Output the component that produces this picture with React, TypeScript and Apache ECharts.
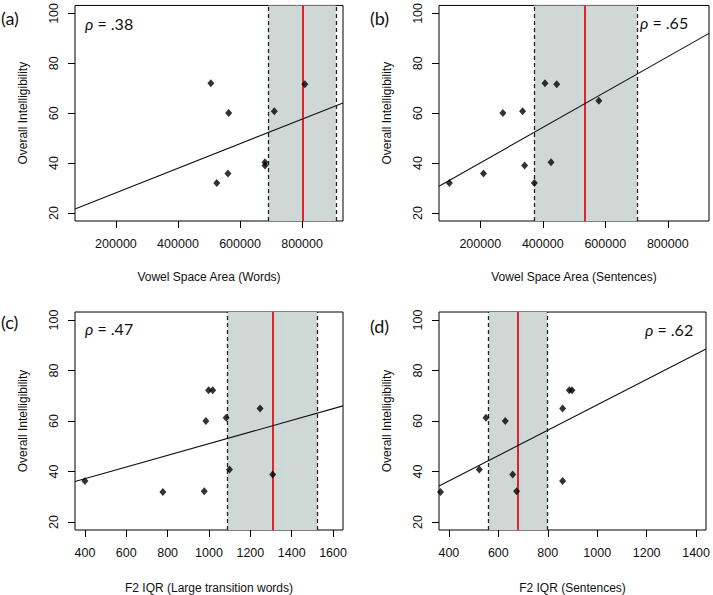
import React, { useEffect, useRef } from "react";
import * as echarts from "echarts";

// ---------- data ----------
const panelLabels = ["(a)", "(b)", "(c)", "(d)"];
const xNames = [
  "Vowel Space Area (Words)",
  "Vowel Space Area (Sentences)",
  "F2 IQR (Large transition words)",
  "F2 IQR (Sentences)",
];
const yName = "Overall Intelligibility";
const rhoValues = [".38", ".65", ".47", ".62"];

const xLimits = [
  [68000, 932000],
  [68000, 932000],
  [352, 1648],
  [360, 1440],
];
const yLimits = [16.8, 103.2];
const xTicks = [
  [200000, 400000, 600000, 800000],
  [200000, 400000, 600000, 800000],
  [400, 600, 800, 1000, 1200, 1400, 1600],
  [400, 600, 800, 1000, 1200, 1400],
];
const yTicks = [20, 40, 60, 80, 100];

const pointsA = [
  [506000, 72.0], [809000, 71.6], [563500, 60.1], [710500, 60.8],
  [680500, 40.3], [680500, 39.0], [561000, 35.8], [525000, 32.0],
];
const pointsB = [
  [101200, 32.0], [210300, 35.8], [272300, 60.1], [335500, 60.8], [341900, 39.0],
  [372900, 32.0], [407100, 72.0], [444600, 71.6], [426400, 40.3], [579400, 65.0],
];
const pointsC = [
  [400, 36.2], [777, 31.9], [977, 32.2], [985, 60.0], [998, 72.2],
  [1018, 72.2], [1083, 61.3], [1099, 40.8], [1247, 65.0], [1308, 38.8],
];
const pointsD = [
  [366, 31.9], [523, 40.8], [550, 61.3], [628, 60.0], [658, 38.8],
  [674, 32.2], [860, 65.0], [860, 36.2], [887, 72.2], [898, 72.2],
];
const pointsAll = [pointsA, pointsB, pointsC, pointsD];

// regression line endpoints read at the axis limits
const fitA = [[68000, 21.6], [932000, 64.1]];
const fitB = [[68000, 30.7], [932000, 92.0]];
const fitC = [[352, 36.0], [1648, 66.0]];
const fitD = [[360, 34.2], [1440, 88.5]];
const fitAll = [fitA, fitB, fitC, fitD];

// shaded interval [low, high], its centre, and the faint secondary line
const bands = [
  [691000, 909000],
  [373000, 701000],
  [1089, 1524],
  [561, 798],
];
const centres = [800800, 533400, 1307, 680];
const faintLines = [783000, 509000, 1350, 690];

// ---------- layout ----------
const grids = [
  { left: 75, top: 3, width: 268, height: 218 },
  { left: 439, top: 3, width: 270, height: 218 },
  { left: 75, top: 312, width: 268, height: 218 },
  { left: 439, top: 312, width: 270, height: 218 },
];
const panelLabelPos = [
  [1, 18], [370, 18], [1, 322], [370, 326],
];
const rhoPos = [
  [85, 23], [640, 22], [85, 328], [645, 329],
];
const xNameGaps = [50, 50, 52, 52];

const axisFont = "'Liberation Sans', Arial, sans-serif";
const labelFont = "Lato, 'Open Sans', sans-serif";

export default function App() {
  const ref = useRef<HTMLDivElement>(null);

  useEffect(() => {
    if (!ref.current) return;
    const chart = echarts.init(ref.current, null, { renderer: "svg" });

    const xAxis = xLimits.map((lim, i) => ({
      type: "value",
      gridIndex: i,
      min: lim[0],
      max: lim[1],
      name: xNames[i],
      nameLocation: "middle",
      nameGap: xNameGaps[i],
      nameTextStyle: { fontFamily: axisFont, fontSize: 12, color: "#111" },
      axisLine: { show: false },
      splitLine: { show: false },
      axisTick: {
        show: true,
        length: 7,
        customValues: xTicks[i],
        lineStyle: { color: "#000", width: 1 },
      },
      axisLabel: {
        customValues: xTicks[i],
        formatter: (v: number) => String(v),
        margin: 16,
        fontFamily: axisFont,
        fontSize: 12.5,
        color: "#111",
      },
    }));

    const yAxis = grids.map((_, i) => ({
      type: "value",
      gridIndex: i,
      min: yLimits[0],
      max: yLimits[1],
      name: yName,
      nameLocation: "middle",
      nameGap: 46,
      nameTextStyle: { fontFamily: axisFont, fontSize: 12, color: "#111" },
      axisLine: { show: false },
      splitLine: { show: false },
      axisTick: {
        show: true,
        length: 7,
        customValues: yTicks,
        lineStyle: { color: "#000", width: 1 },
      },
      axisLabel: {
        customValues: yTicks,
        formatter: (v: number) => String(v),
        rotate: 90,
        margin: 15,
        fontFamily: axisFont,
        fontSize: 12.5,
        color: "#111",
      },
    }));

    const series: any[] = [];
    grids.forEach((_, i) => {
      series.push({
        type: "line",
        xAxisIndex: i,
        yAxisIndex: i,
        data: fitAll[i],
        showSymbol: false,
        symbol: "none",
        silent: true,
        z: 3,
        lineStyle: { color: "#111", width: 1.1 },
        markArea: {
          silent: true,
          z: 1,
          itemStyle: { color: "#d0d8d5" },
          data: [[{ xAxis: bands[i][0] }, { xAxis: bands[i][1] }]],
        },
        markLine: {
          silent: true,
          z: 2,
          symbol: "none",
          label: { show: false },
          emphasis: { disabled: true },
          data: [
            { xAxis: faintLines[i], lineStyle: { color: "rgba(185,215,235,0.45)", width: 2, type: "solid" } },
            { xAxis: bands[i][0], lineStyle: { color: "#222", width: 1.3, type: [4, 3] } },
            { xAxis: bands[i][1], lineStyle: { color: "#222", width: 1.3, type: [4, 3] } },
            { xAxis: centres[i], lineStyle: { color: "#e2232e", width: 2, type: "solid" } },
          ],
        },
      });
      series.push({
        type: "scatter",
        xAxisIndex: i,
        yAxisIndex: i,
        data: pointsAll[i],
        symbol: "diamond",
        symbolSize: [7, 8],
        silent: true,
        z: 5,
        itemStyle: { color: "#000" },
      });
    });

    const graphic: any[] = [];
    panelLabels.forEach((t, i) => {
      graphic.push({
        type: "text",
        x: panelLabelPos[i][0],
        y: panelLabelPos[i][1],
        style: {
          text: t,
          fontFamily: labelFont,
          fontSize: 18,
          fill: "#111",
          verticalAlign: "middle",
        },
      });
      graphic.push({
        type: "text",
        x: rhoPos[i][0],
        y: rhoPos[i][1],
        style: {
          text: "{r|ρ} = " + rhoValues[i],
          fontFamily: labelFont,
          fontSize: 16,
          fill: "#111",
          verticalAlign: "middle",
          rich: {
            r: { fontStyle: "italic", fontFamily: labelFont, fontSize: 16, fill: "#111" },
          },
        },
      });
    });

    chart.setOption({
      animation: false,
      backgroundColor: "#fff",
      grid: grids.map((g) => ({
        ...g,
        show: true,
        borderColor: "#000",
        borderWidth: 1,
        backgroundColor: "transparent",
        containLabel: false,
      })),
      xAxis,
      yAxis,
      series,
      graphic,
    });

    return () => chart.dispose();
  }, []);

  return (
    <div
      ref={ref}
      style={{ position: "absolute", left: 0, top: 0, width: 713, height: 595 }}
    />
  );
}
